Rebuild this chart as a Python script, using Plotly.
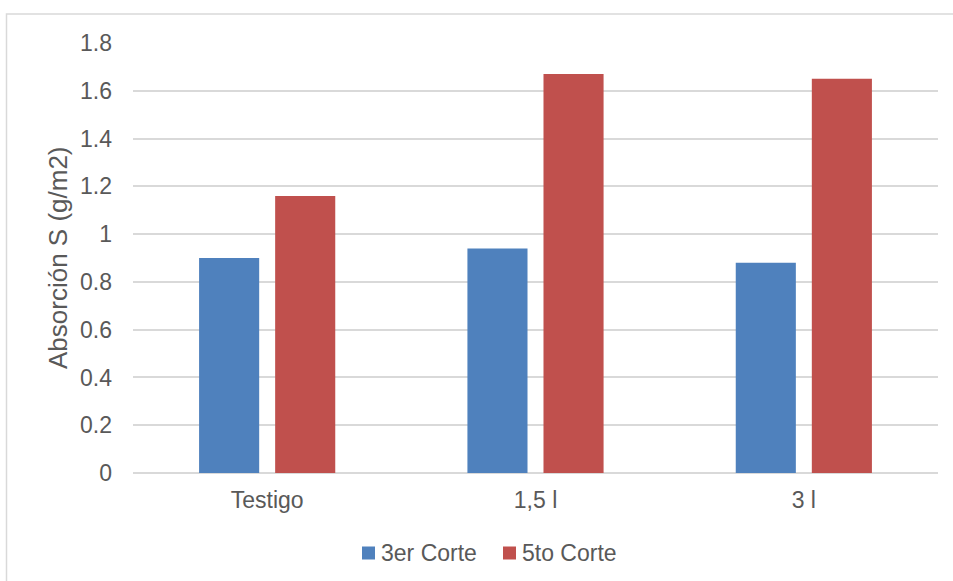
import plotly.graph_objects as go

# Data
categories = ["Testigo", "1,5 l", "3 l"]
corte3 = [0.90, 0.94, 0.88]
corte5 = [1.16, 1.67, 1.65]
series_names = ["3er Corte", "5to Corte"]
y_ticks = [0, 0.2, 0.4, 0.6, 0.8, 1, 1.2, 1.4, 1.6, 1.8]
y_ticktext = ["0", "0.2", "0.4", "0.6", "0.8", "1", "1.2", "1.4", "1.6", "1.8"]

BLUE = "#4F81BD"
RED = "#C0504D"
GRID = "#D9D9D9"
TEXT = "#595959"
FONT = "Liberation Sans, Arial, sans-serif"

W, H = 953, 581
L, R, T, B = 133, 15, 43, 108
pw, ph = W - L - R, H - T - B

fig = go.Figure()
fig.add_trace(go.Bar(x=categories, y=corte3, name=series_names[0],
                     marker=dict(color=BLUE, line=dict(width=0))))
fig.add_trace(go.Bar(x=categories, y=corte5, name=series_names[1],
                     marker=dict(color=RED, line=dict(width=0))))

def px_x(x):
    return (x - L) / pw

def px_y(y):
    return (H - B - y) / ph

# Legend drawn as swatch + label pairs below the axis
legend_items = [(series_names[0], BLUE, 362), (series_names[1], RED, 503)]
legend_y = 553
shapes = [dict(type="rect", xref="paper", yref="paper",
               x0=px_x(6.5), x1=px_x(960), y0=px_y(600), y1=px_y(14),
               line=dict(color=GRID, width=1.5), layer="below")]
annotations = [dict(text="Absorción S (g/m2)", textangle=-90,
                    xref="paper", yref="paper",
                    x=px_x(58), y=0.5, xanchor="center", yanchor="middle",
                    showarrow=False, font=dict(size=26, color=TEXT))]
for name, color, x0 in legend_items:
    shapes.append(dict(type="rect", xref="paper", yref="paper",
                       x0=px_x(x0), x1=px_x(x0 + 13),
                       y0=px_y(legend_y + 6.5), y1=px_y(legend_y - 6.5),
                       fillcolor=color, line=dict(width=0)))
    annotations.append(dict(text=name, xref="paper", yref="paper",
                            x=px_x(x0 + 17), y=px_y(legend_y),
                            xanchor="left", yanchor="middle", showarrow=False,
                            font=dict(size=23, color=TEXT)))

fig.update_layout(
    width=W, height=H,
    margin=dict(l=L, r=R, t=T, b=B, autoexpand=False),
    paper_bgcolor="white", plot_bgcolor="white",
    barmode="group", bargap=0.433, bargroupgap=0.21,
    font=dict(family=FONT, color=TEXT, size=23),
    showlegend=False,
    xaxis=dict(showgrid=False, showline=False, ticks="",
               ticklabelstandoff=11, tickfont=dict(size=23, color=TEXT),
               fixedrange=True),
    yaxis=dict(range=[0, 1.8], tickvals=y_ticks, ticktext=y_ticktext,
               showgrid=True, gridcolor=GRID, gridwidth=2,
               zeroline=True, zerolinecolor=GRID, zerolinewidth=2,
               showline=False, ticks="", ticklabelstandoff=20,
               tickfont=dict(size=23, color=TEXT), fixedrange=True),
    annotations=annotations,
    shapes=shapes,
)

fig.write_html("out.html")
